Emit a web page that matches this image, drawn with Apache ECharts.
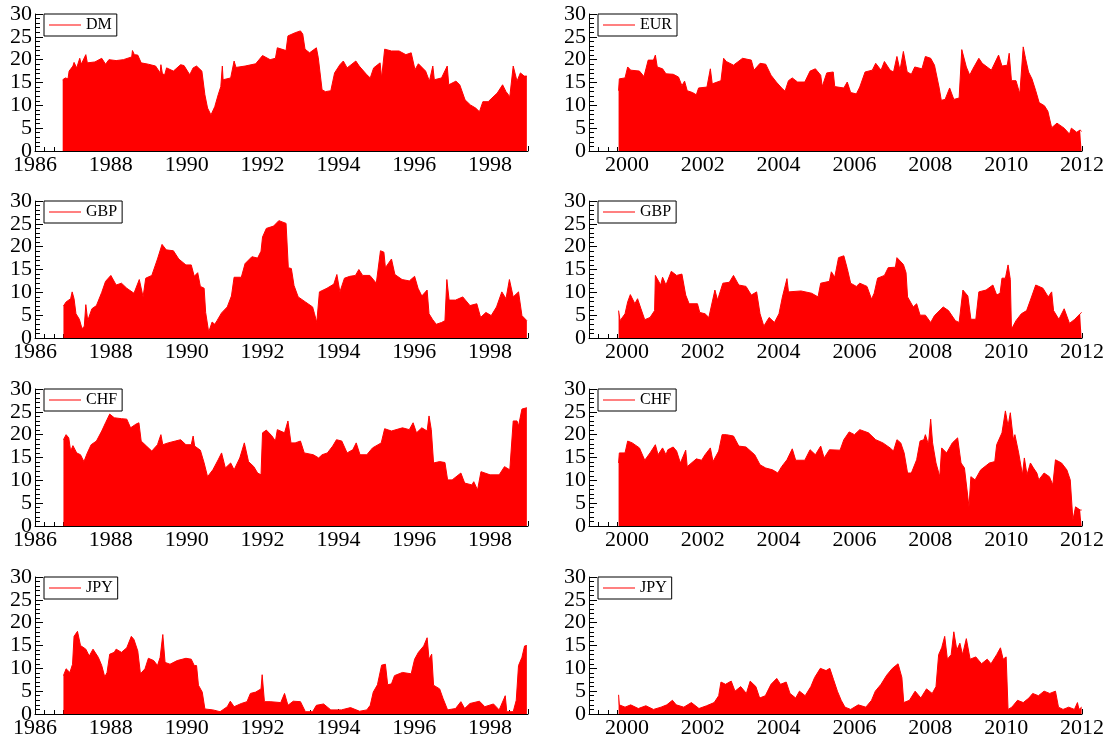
<!DOCTYPE html>
<html>
<head>
<meta charset="utf-8">
<script src="https://cdn.jsdelivr.net/npm/echarts@6/dist/echarts.min.js"></script>
<style>
  html, body { margin: 0; padding: 0; background: #fff; }
  #chart { width: 1113px; height: 749px; }
</style>
</head>
<body>
<div id="chart"></div>
<script>
// series values as [year, value]
const dmData = [[1986.73,15.6],[1986.8,16],[1986.87,15.8],[1986.9,17.5],[1987.0,18.6],[1987.03,19.4],[1987.1,18.2],[1987.18,20.3],[1987.22,19],[1987.34,21.1],[1987.38,19.3],[1987.58,19.5],[1987.76,20.3],[1987.86,19],[1987.95,20],[1988.14,19.8],[1988.33,20],[1988.55,20.6],[1988.57,22],[1988.62,21.1],[1988.71,21],[1988.8,19.3],[1988.99,19],[1989.18,18.6],[1989.3,17.1],[1989.32,18.9],[1989.36,16.9],[1989.42,16.7],[1989.47,18.2],[1989.65,17.5],[1989.84,18.9],[1989.93,18.7],[1990.08,16.7],[1990.17,18.2],[1990.26,18.6],[1990.4,17.5],[1990.48,12.3],[1990.55,9.4],[1990.64,7.9],[1990.74,9.7],[1990.83,12.3],[1990.9,14.1],[1990.94,18.6],[1990.96,15.6],[1991.16,16],[1991.25,19.7],[1991.3,18.3],[1991.54,18.6],[1991.82,19.1],[1992.0,20.9],[1992.2,20],[1992.34,20.3],[1992.39,22.6],[1992.62,22],[1992.67,25.2],[1992.86,25.9],[1993.0,26.3],[1993.06,25.6],[1993.12,22.3],[1993.24,21.5],[1993.42,22.6],[1993.47,20.4],[1993.57,13.4],[1993.66,13],[1993.8,13.2],[1993.9,17.1],[1994.04,18.9],[1994.13,19.7],[1994.23,18.2],[1994.46,19.7],[1994.55,18.6],[1994.75,16.7],[1994.84,16],[1994.93,18.2],[1995.1,19.3],[1995.14,16],[1995.22,22.3],[1995.4,21.9],[1995.6,21.9],[1995.78,21.1],[1995.92,21.5],[1996.02,17.8],[1996.11,19.1],[1996.3,17.5],[1996.4,15.3],[1996.49,18.6],[1996.53,15.6],[1996.72,16],[1996.87,18.6],[1996.91,14.5],[1997.1,15.3],[1997.2,14.5],[1997.34,11.2],[1997.48,10.1],[1997.62,9.4],[1997.72,8.6],[1997.81,10.8],[1997.95,10.8],[1998.05,11.6],[1998.19,12.7],[1998.33,14.5],[1998.42,13],[1998.52,11.9],[1998.61,18.6],[1998.71,15.3],[1998.8,17.1],[1998.9,16.4],[1998.97,16.4]];

const eurData = [[1999.78,13.2],[1999.8,15.8],[1999.95,16],[2000.02,18.4],[2000.1,17.7],[2000.33,17.5],[2000.45,16.3],[2000.56,19.9],[2000.7,19.9],[2000.75,21],[2000.8,18.4],[2000.94,18],[2001.03,16.9],[2001.22,16.8],[2001.36,16.2],[2001.45,14.3],[2001.52,15.3],[2001.59,13.2],[2001.73,12.8],[2001.83,12.3],[2001.89,13.8],[2002.11,14],[2002.2,18],[2002.25,14.7],[2002.48,15.4],[2002.55,20.3],[2002.62,19.6],[2002.81,18.8],[2003.05,20.3],[2003.28,19.9],[2003.35,17.7],[2003.51,19.2],[2003.66,19],[2003.8,16.6],[2003.94,15.1],[2004.08,13.8],[2004.17,13.1],[2004.26,15.4],[2004.36,16],[2004.5,15.1],[2004.69,15.1],[2004.83,17.5],[2004.97,18],[2005.11,16.6],[2005.15,14.1],[2005.27,17.1],[2005.44,17.3],[2005.48,14.1],[2005.72,13.8],[2005.81,15.1],[2005.9,12.8],[2006.05,12.5],[2006.14,14],[2006.28,17.3],[2006.47,17.7],[2006.56,19.2],[2006.7,17.7],[2006.79,19.6],[2006.94,17.7],[2007.03,17.3],[2007.12,20.7],[2007.2,17.7],[2007.29,21.8],[2007.39,17.3],[2007.5,16.8],[2007.59,18.4],[2007.78,18],[2007.87,20.7],[2008.01,20.3],[2008.11,18.8],[2008.23,14],[2008.29,11.1],[2008.39,11.3],[2008.51,13.8],[2008.62,11.3],[2008.76,11.6],[2008.83,22.2],[2008.95,18.4],[2009.04,16.6],[2009.11,17.8],[2009.28,20.3],[2009.37,19.2],[2009.61,17.7],[2009.8,21],[2009.89,18.6],[2010.03,18.8],[2010.08,21.4],[2010.14,15.4],[2010.26,15.4],[2010.36,12.5],[2010.4,12.1],[2010.45,22.8],[2010.51,20.3],[2010.59,17.3],[2010.68,15.8],[2010.78,13.2],[2010.87,10.6],[2011.01,9.9],[2011.1,8.7],[2011.2,5.1],[2011.34,6.1],[2011.53,5],[2011.67,3.7],[2011.72,5],[2011.86,4.1],[2011.95,4.6],[2011.99,4.3]];

const gbpOldData = [[1986.75,7],[1986.82,7.9],[1986.94,8.6],[1986.98,10.1],[1987.03,8.6],[1987.08,5.3],[1987.17,4.1],[1987.24,2],[1987.3,2.6],[1987.34,7.3],[1987.39,3.8],[1987.5,6.4],[1987.62,7.1],[1987.76,10],[1987.86,12.4],[1988.0,13.7],[1988.14,11.6],[1988.28,12],[1988.42,10.9],[1988.61,9.8],[1988.75,12.8],[1988.85,9],[1988.92,13.1],[1989.08,13.7],[1989.23,17.3],[1989.35,20.5],[1989.46,19.3],[1989.65,19.1],[1989.79,17.3],[1989.98,16],[1990.12,16],[1990.2,13.5],[1990.29,14.3],[1990.36,11.3],[1990.46,10.9],[1990.5,5.6],[1990.58,1.3],[1990.67,3.5],[1990.74,3],[1990.8,3.8],[1990.92,5.5],[1991.07,6.8],[1991.18,9.2],[1991.25,13.3],[1991.44,13.3],[1991.54,16.3],[1991.72,17.8],[1991.87,17.5],[1991.96,19],[1992.0,22.1],[1992.1,24],[1992.29,24.5],[1992.43,25.7],[1992.62,25.1],[1992.68,15.4],[1992.76,15.2],[1992.83,11.5],[1992.94,9],[1993.13,7.9],[1993.32,6.8],[1993.37,5.3],[1993.43,3.4],[1993.5,10.1],[1993.7,10.9],[1993.88,11.8],[1993.96,13.9],[1994.04,10.1],[1994.16,13.1],[1994.3,13.5],[1994.45,13.7],[1994.54,15],[1994.64,13.7],[1994.83,13.7],[1995.0,12],[1995.11,19.1],[1995.2,18.8],[1995.24,15.4],[1995.4,17.3],[1995.49,13.9],[1995.68,12.8],[1995.87,12.5],[1996.01,13.5],[1996.1,10.9],[1996.2,9.2],[1996.34,10.5],[1996.39,5.3],[1996.48,4.1],[1996.58,3],[1996.72,3.4],[1996.81,3.8],[1996.86,12.8],[1996.92,8.3],[1997.09,8.3],[1997.28,9],[1997.47,7.1],[1997.65,7.5],[1997.75,4.5],[1997.89,5.6],[1998.03,4.9],[1998.17,6.8],[1998.31,10.1],[1998.42,8.6],[1998.51,12.8],[1998.61,9],[1998.75,10.1],[1998.84,4.9],[1998.97,3.8]];

const gbpNewData = [[1999.78,6],[1999.82,3.8],[1999.95,5.3],[2000.02,7.9],[2000.09,9.5],[2000.21,7.5],[2000.28,8.6],[2000.37,6.4],[2000.47,4],[2000.61,4.5],[2000.73,6],[2000.75,13.7],[2000.89,11.6],[2000.94,13.3],[2001.03,11.6],[2001.17,14.6],[2001.31,13.7],[2001.45,14],[2001.55,9.4],[2001.64,7.5],[2001.86,7.5],[2001.92,5.6],[2002.06,5.3],[2002.16,4.5],[2002.32,10.5],[2002.39,8.3],[2002.53,12],[2002.7,12.2],[2002.81,13.7],[2002.95,11.6],[2003.14,11.3],[2003.28,9.4],[2003.42,10.1],[2003.51,5.3],[2003.61,2.6],[2003.75,4.5],[2003.89,3.4],[2004.01,5.3],[2004.1,9],[2004.22,13],[2004.26,10.1],[2004.59,10.3],[2004.87,9.8],[2005.04,9],[2005.11,12],[2005.34,12.4],[2005.39,14.5],[2005.48,13.3],[2005.58,17.6],[2005.72,18],[2005.81,15.2],[2005.9,12],[2006.05,11.3],[2006.14,12],[2006.33,11.3],[2006.45,8.5],[2006.52,9.8],[2006.61,13.1],[2006.79,13.7],[2006.89,15.4],[2007.08,15.5],[2007.12,17.6],[2007.29,16.1],[2007.36,14.3],[2007.4,9],[2007.55,6.8],[2007.64,7.5],[2007.73,5],[2007.87,5],[2008.01,3.4],[2008.11,4.9],[2008.34,6.8],[2008.48,6],[2008.66,3.8],[2008.76,3.4],[2008.86,10.5],[2008.99,9.2],[2009.07,4.1],[2009.2,4.1],[2009.28,10.1],[2009.47,10.5],[2009.65,11.6],[2009.75,9.4],[2009.84,9.8],[2009.89,13.1],[2009.98,13.1],[2010.05,16],[2010.11,12.8],[2010.14,1.9],[2010.26,3.8],[2010.4,5.3],[2010.54,6],[2010.64,8.3],[2010.78,11.6],[2010.97,10.9],[2011.11,9],[2011.2,10.1],[2011.25,6],[2011.39,4.1],[2011.53,6.4],[2011.67,3.2],[2011.81,4.1],[2011.95,5.3],[2011.99,5.6]];

const chfOldData = [[1986.75,18.9],[1986.82,20],[1986.89,19.3],[1986.94,16.4],[1987.0,17.6],[1987.1,16],[1987.2,15.6],[1987.29,14.1],[1987.38,16],[1987.48,17.8],[1987.62,18.6],[1987.76,20.8],[1987.86,22.6],[1987.97,24.5],[1988.09,23.7],[1988.28,23.5],[1988.42,23.4],[1988.52,21.5],[1988.66,22.3],[1988.74,22.6],[1988.8,18.6],[1988.94,17.5],[1989.08,16.4],[1989.23,17.8],[1989.32,20],[1989.37,17.8],[1989.51,18.2],[1989.7,18.6],[1989.84,18.9],[1989.98,17.8],[1990.12,17.8],[1990.17,19.7],[1990.21,17.5],[1990.36,16.6],[1990.46,13.8],[1990.55,10.8],[1990.69,12.3],[1990.83,14.5],[1990.92,16],[1991.02,12.7],[1991.16,13.8],[1991.25,12.3],[1991.4,14.9],[1991.52,18.2],[1991.63,14.1],[1991.77,13],[1991.87,11.6],[1991.96,11.2],[1992.0,20.4],[1992.1,21],[1992.24,19.8],[1992.34,18.6],[1992.39,21.1],[1992.58,20.4],[1992.67,23],[1992.75,18.2],[1992.86,18.2],[1993.0,18.6],[1993.1,16],[1993.34,15.6],[1993.48,14.9],[1993.57,15.6],[1993.71,16],[1993.85,17.5],[1993.95,18.9],[1994.09,18.6],[1994.23,16],[1994.38,16.7],[1994.47,18.2],[1994.57,15.6],[1994.75,15.6],[1994.9,17.1],[1995.13,18.2],[1995.22,21.3],[1995.4,20.8],[1995.69,21.5],[1995.87,21.1],[1995.97,22.6],[1996.06,20.4],[1996.2,21.5],[1996.34,20.8],[1996.39,24.1],[1996.45,21.1],[1996.51,13.8],[1996.67,14.1],[1996.81,13.9],[1996.88,10.1],[1997.0,10.1],[1997.23,11.6],[1997.33,9.4],[1997.52,9],[1997.57,9.7],[1997.67,7.9],[1997.76,11.9],[1998.0,11.2],[1998.24,11.2],[1998.38,13],[1998.52,12.3],[1998.61,23],[1998.71,23],[1998.75,21.9],[1998.84,25.6],[1998.97,25.9]];

const chfNewData = [[1999.78,13.8],[1999.8,16],[1999.95,16],[2000.02,18.6],[2000.14,18.2],[2000.33,17.1],[2000.47,14.4],[2000.61,16],[2000.75,17.8],[2000.82,15.6],[2000.94,17.1],[2001.03,15.6],[2001.08,16.7],[2001.22,17.3],[2001.31,16.4],[2001.41,13.8],[2001.55,16.6],[2001.59,13],[2001.83,14.7],[2001.97,14.4],[2002.06,15.6],[2002.2,17.1],[2002.27,14.1],[2002.42,16.4],[2002.51,20],[2002.62,20],[2002.81,19.7],[2002.95,17.5],[2003.14,17.3],[2003.37,15.6],[2003.51,13.4],[2003.66,12.7],[2003.84,12.3],[2003.98,11.6],[2004.08,13],[2004.22,14.5],[2004.36,16.9],[2004.45,14.4],[2004.69,14.4],[2004.83,16.7],[2004.97,15.6],[2005.11,17.5],[2005.2,14.9],[2005.34,16.7],[2005.62,16.6],[2005.72,18.9],[2005.86,20.6],[2006.0,20],[2006.14,21.1],[2006.37,20.4],[2006.56,18.9],[2006.75,18.2],[2006.94,17.1],[2007.03,16.4],[2007.12,18.9],[2007.22,18.2],[2007.31,16],[2007.4,11.6],[2007.5,11.6],[2007.64,14.5],[2007.73,18.6],[2007.83,18.9],[2007.87,20],[2007.95,17.8],[2008.01,23.4],[2008.06,18.2],[2008.15,13.8],[2008.25,10.8],[2008.3,17.1],[2008.43,16],[2008.58,18.2],[2008.72,19.3],[2008.81,13.8],[2008.9,12.7],[2009.02,4.2],[2009.07,10.8],[2009.18,10.1],[2009.33,12.3],[2009.56,13.8],[2009.7,14.1],[2009.75,17.8],[2009.89,20.4],[2009.98,25.2],[2010.05,21.9],[2010.11,24.8],[2010.19,18.9],[2010.23,20],[2010.33,16],[2010.43,11.2],[2010.48,14.9],[2010.55,11.2],[2010.64,13.8],[2010.72,12.7],[2010.81,11.6],[2010.86,10.1],[2011.0,11.6],[2011.14,10.8],[2011.23,9],[2011.3,14.5],[2011.46,13.8],[2011.6,12.3],[2011.69,10.1],[2011.76,1.3],[2011.83,4.2],[2011.95,3.5],[2011.99,3.5]];

const jpyOldData = [[1986.75,8.4],[1986.82,9.9],[1986.92,9.1],[1986.99,10.9],[1987.03,17],[1987.12,18.1],[1987.2,15],[1987.34,14.2],[1987.43,12.7],[1987.53,14.2],[1987.67,12.4],[1987.76,10.6],[1987.84,8.1],[1987.9,9.1],[1987.97,13.1],[1988.09,13.5],[1988.14,14.2],[1988.28,13.5],[1988.42,14.5],[1988.54,17],[1988.61,16.3],[1988.71,13.8],[1988.78,8.8],[1988.9,9.9],[1988.99,12.2],[1989.13,11.7],[1989.23,10.6],[1989.3,12.4],[1989.37,17.4],[1989.43,11.3],[1989.56,10.9],[1989.75,11.7],[1989.98,12.2],[1990.12,12],[1990.2,10.6],[1990.26,10.6],[1990.31,6.3],[1990.41,4.8],[1990.48,1.1],[1990.69,0.9],[1990.88,0.5],[1991.07,1.6],[1991.15,2.8],[1991.25,1.6],[1991.44,2.3],[1991.59,2.7],[1991.68,4.5],[1991.82,4.8],[1991.96,5.5],[1991.99,8.6],[1992.05,2.7],[1992.2,2.7],[1992.48,2.5],[1992.58,4.5],[1992.67,1.9],[1992.81,2.8],[1993.0,2.7],[1993.13,0.5],[1993.32,0.5],[1993.42,1.9],[1993.61,2.2],[1993.8,0.9],[1994.08,0.9],[1994.32,1.4],[1994.56,0.6],[1994.75,0.9],[1994.84,1.9],[1994.92,4.8],[1995.03,6.4],[1995.14,10.7],[1995.24,10.9],[1995.3,6.4],[1995.4,6.6],[1995.48,8.4],[1995.6,8.8],[1995.69,9.1],[1995.92,8.8],[1996.01,12],[1996.11,13.5],[1996.25,14.9],[1996.34,16.7],[1996.39,12],[1996.46,13.1],[1996.51,6.3],[1996.67,5.5],[1996.76,3.4],[1996.88,0.9],[1997.09,1.2],[1997.23,2.7],[1997.33,1.2],[1997.47,2.3],[1997.72,2.8],[1997.86,1.6],[1998.09,2.2],[1998.24,0.9],[1998.4,4],[1998.44,0.5],[1998.61,0.5],[1998.69,3],[1998.75,10.6],[1998.84,12.4],[1998.91,14.9],[1998.97,15]];

const jpyNewData = [[1999.78,4.2],[1999.8,2],[1999.95,1.5],[2000.1,2],[2000.3,1.2],[2000.5,1.8],[2000.7,1],[2000.9,1.5],[2001.05,2],[2001.2,3],[2001.3,2],[2001.5,1.5],[2001.7,2.5],[2001.9,1.2],[2002.1,1.8],[2002.3,2.5],[2002.42,4],[2002.48,7],[2002.6,6.5],[2002.75,7.2],[2002.85,5],[2003.0,6],[2003.15,4.5],[2003.25,7.2],[2003.4,6],[2003.5,3.5],[2003.65,4],[2003.8,6.5],[2003.95,7.8],[2004.05,6.5],[2004.2,7],[2004.3,4.5],[2004.45,3.5],[2004.55,5],[2004.7,4],[2004.85,6],[2004.95,8],[2005.1,10],[2005.25,9.5],[2005.35,10],[2005.45,7.5],[2005.55,5],[2005.65,3],[2005.75,1.5],[2005.9,1],[2006.1,2],[2006.3,1.5],[2006.45,3],[2006.55,5],[2006.7,6.5],[2006.85,8.5],[2007.0,10],[2007.15,11],[2007.25,8],[2007.3,2.5],[2007.45,3],[2007.6,5],[2007.75,3.5],[2007.9,5.5],[2008.05,4.5],[2008.15,6],[2008.22,13],[2008.3,14.5],[2008.38,17],[2008.45,12],[2008.55,13],[2008.62,18],[2008.7,14],[2008.78,15.5],[2008.85,13],[2008.95,16.5],[2009.05,12],[2009.2,12.5],[2009.35,11],[2009.5,12],[2009.6,11],[2009.75,13],[2009.85,14.5],[2009.92,12],[2010.0,12.5],[2010.05,1],[2010.15,1.5],[2010.3,3],[2010.45,2.5],[2010.6,3.5],[2010.7,4.5],[2010.85,4],[2011.0,5],[2011.15,4.5],[2011.3,5],[2011.38,1.5],[2011.5,1],[2011.65,1.5],[2011.8,1],[2011.88,2.5],[2011.92,1],[2011.99,1.5]];

const yTicks = [0, 30, 5];          // min, max, step
const leftYears = [1986, 1999];
const rightYears = [1999, 2012];

// panel order: row by row, left then right
const panels = [
  { name: 'DM',  data: dmData,     row: 0, col: 0 },
  { name: 'EUR', data: eurData,    row: 0, col: 1 },
  { name: 'GBP', data: gbpOldData, row: 1, col: 0 },
  { name: 'GBP', data: gbpNewData, row: 1, col: 1 },
  { name: 'CHF', data: chfOldData, row: 2, col: 0 },
  { name: 'CHF', data: chfNewData, row: 2, col: 1 },
  { name: 'JPY', data: jpyOldData, row: 3, col: 0 },
  { name: 'JPY', data: jpyNewData, row: 3, col: 1 }
]

const FONT = 'Liberation Serif'
const colLeft = [35, 589]
const rowTop = [14, 201, 389, 577]
const plotW = 493
const plotH = 137

const grid = [], xAxis = [], yAxis = [], series = [], legend = []

panels.forEach((p, i) => {
  const left = colLeft[p.col]
  const top = rowTop[p.row]
  const years = p.col === 0 ? leftYears : rightYears

  grid.push({ left: left, top: top, width: plotW, height: plotH })

  xAxis.push({
    type: 'value',
    gridIndex: i,
    min: years[0],
    max: years[1],
    interval: 1,
    axisLine: { show: true, lineStyle: { color: '#000', width: 1 } },
    axisTick: { show: true, inside: true, length: 5, lineStyle: { color: '#000' } },
    minorTick: { show: true, splitNumber: 4, length: 4, lineStyle: { color: '#000' } },
    splitLine: { show: false },
    axisLabel: {
      fontFamily: FONT,
      fontSize: 22,
      color: '#000',
      margin: 3,
      showMinLabel: true,
      showMaxLabel: true,
      formatter: (v) => (Math.round(v) % 2 === 0 ? String(Math.round(v)) : '')
    }
  })

  yAxis.push({
    type: 'value',
    gridIndex: i,
    min: yTicks[0],
    max: yTicks[1],
    interval: yTicks[2],
    axisLine: { show: true, lineStyle: { color: '#000', width: 1 } },
    axisTick: { show: true, inside: true, length: 8, lineStyle: { color: '#000' } },
    minorTick: { show: true, splitNumber: 5, length: 5, lineStyle: { color: '#000' } },
    splitLine: { show: false },
    axisLabel: { fontFamily: FONT, fontSize: 22, color: '#000', margin: 3 }
  })

  series.push({
    name: p.name,
    type: 'line',
    xAxisIndex: i,
    yAxisIndex: i,
    data: p.data,
    showSymbol: false,
    symbol: 'none',
    animation: false,
    color: '#ff0000',
    lineStyle: { color: '#ff0000', width: 1 },
    areaStyle: { color: '#ff0000', opacity: 1 }
  })

  legend.push({
    data: [{ name: p.name, icon: 'rect' }],
    left: left + 9,
    top: top,
    itemWidth: 32,
    itemHeight: 1,
    itemGap: 0,
    padding: [3, 5, 3, 5],
    borderColor: '#000',
    borderWidth: 1,
    borderRadius: 0,
    backgroundColor: '#fff',
    selectedMode: false,
    textStyle: { fontFamily: FONT, fontSize: 16, color: '#000', padding: [0, 0, 0, 0] }
  })
})

const chart = echarts.init(document.getElementById('chart'))
chart.setOption({
  animation: false,
  backgroundColor: '#fff',
  grid: grid,
  xAxis: xAxis,
  yAxis: yAxis,
  legend: legend,
  series: series
})
</script>
</body>
</html>
